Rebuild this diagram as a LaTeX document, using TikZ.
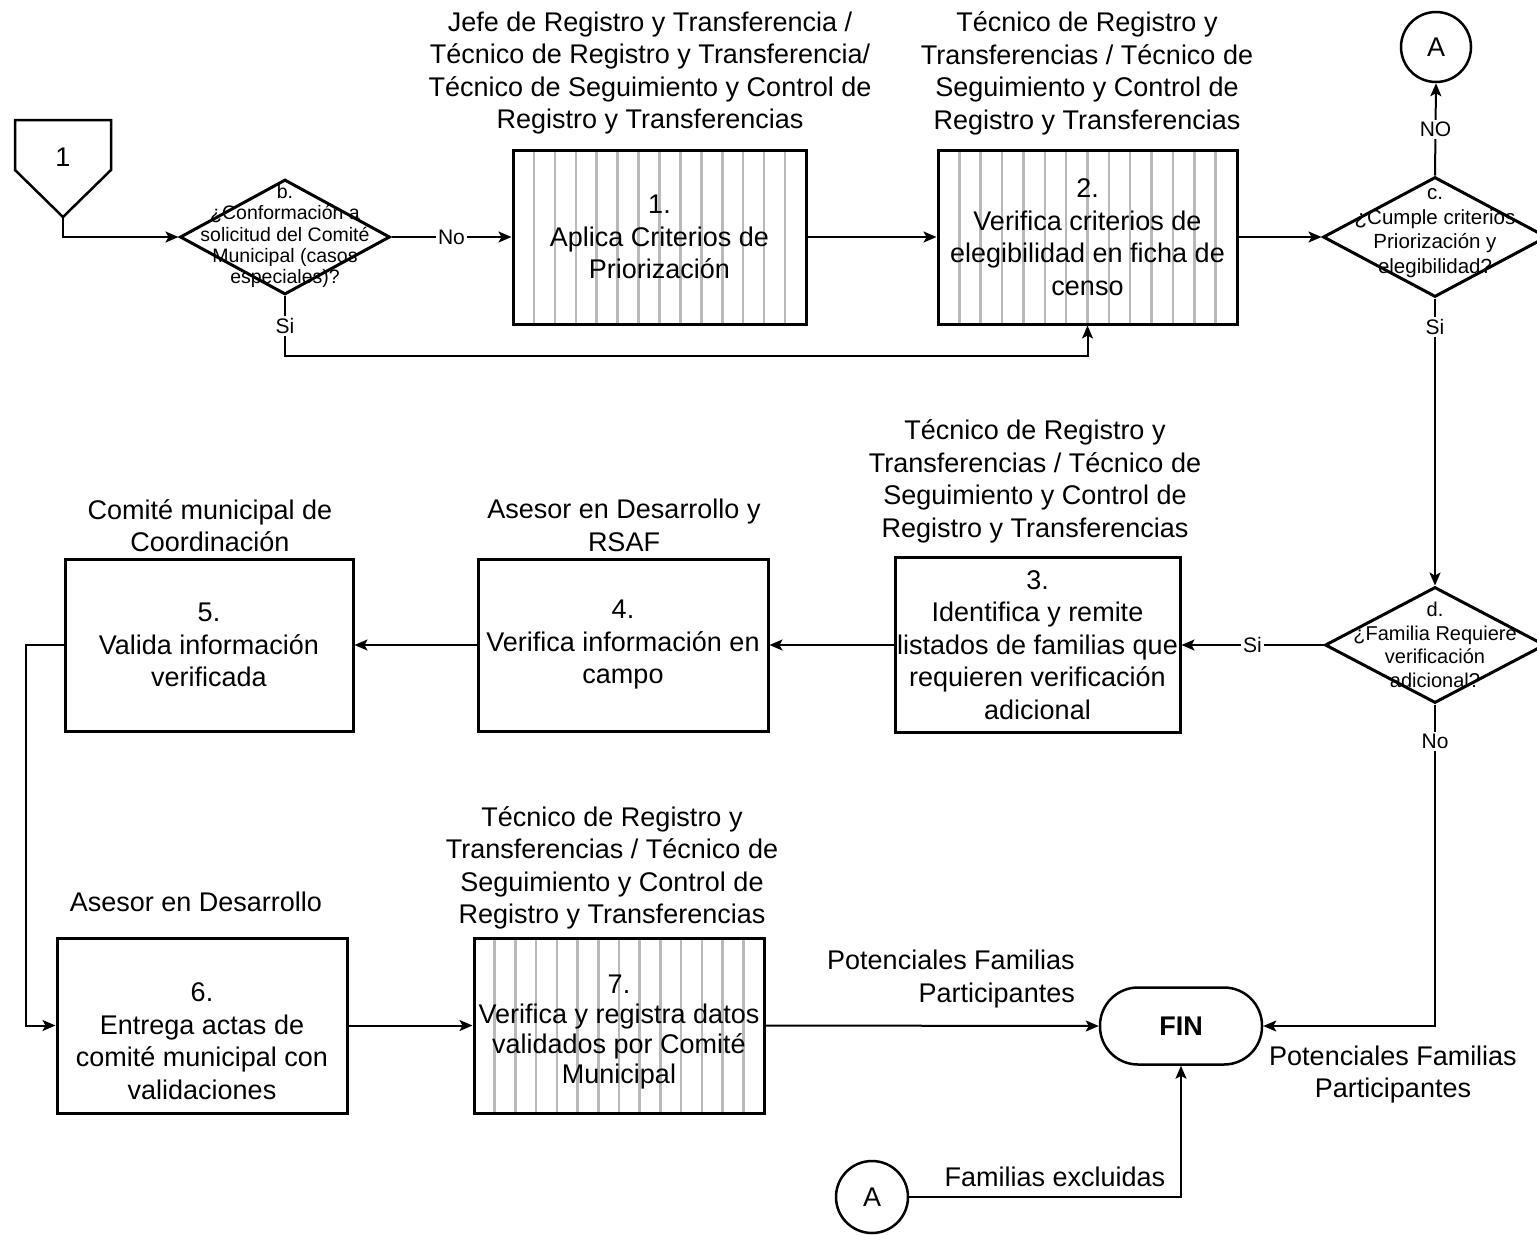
\documentclass[tikz,border=0pt]{standalone}
\usepackage{fontspec}
\setmainfont{Liberation Sans}
\usetikzlibrary{shapes.geometric,arrows.meta,calc}
\begin{document}
\begin{tikzpicture}[x=1pt,y=-1pt,
  main/.style={font=\fontsize{27}{32.5}\selectfont, align=center, inner sep=0pt},
  proc/.style={draw, line width=3pt, rectangle, main},
  stripe/.style={draw=gray!55, line width=2.5pt},
  striped/.style={path picture={
    \foreach \k in {1,...,13}{
      \draw[stripe] ($(path picture bounding box.north west)!{\k/14}!(path picture bounding box.north east)$) --
                    ($(path picture bounding box.south west)!{\k/14}!(path picture bounding box.south east)$);}}},
  dec/.style={draw, line width=3pt, diamond, inner sep=0pt},
  dtxt/.style={align=center, inner sep=0pt},
  conn/.style={line width=2pt, -{Stealth[length=13pt,width=11pt,inset=3pt]}},
  lbl/.style={fill=white, font=\fontsize{21}{25}\selectfont, inner sep=2pt},
  circ/.style={draw, circle, line width=2.5pt, main},
]
\useasboundingbox (0,0) rectangle (1537,1235);

% start off-page connector
\draw[line width=2.5pt] (15,120) -- (111,120) -- (111,170) -- (63,217) -- (15,170) -- cycle;
\node[main] (n1) at (63,157) {1};
\coordinate (s1) at (63,217);

% decision b
\node[dec, minimum width=210pt, minimum height=115pt] (db) at (285,237) {};
\node[dtxt, font=\fontsize{19.5}{21.3}\selectfont] (tdb) at (285,236) {b.\\¿Conformación a\\solicitud del Comité\\Municipal (casos\\especiales)?};

% process boxes
\node[proc, striped, minimum width=293pt, minimum height=174pt] (b1) at (659.5,237) {1.\\Aplica Criterios de\\Priorización};
\node[proc, striped, minimum width=299pt, minimum height=174pt] (b2) at (1087.5,237) {2.\\Verifica criterios de\\elegibilidad en ficha de\\censo};
\node[proc, minimum width=285pt, minimum height=175pt] (b3) at (1037.5,645) {3.\\Identifica y remite\\listados de familias que\\requieren verificación\\adicional};
\node[proc, minimum width=290pt, minimum height=172pt] (b4) at (623,645) {4.\\Verifica información en\\campo};
\node[proc, minimum width=288pt, minimum height=172pt] (b5) at (209,645) {5.\\Valida información\\verificada};
\node[proc, minimum width=290pt, minimum height=175pt] (b6) at (202,1025.5) {};
\node[main] (tb6) at (202,1041) {6.\\Entrega actas de\\comité municipal con\\validaciones};
\node[proc, striped, minimum width=290pt, minimum height=175pt] (b7) at (619,1025.5) {};
\node[main, font=\fontsize{27}{30}\selectfont] (tb7) at (619,1032) {7.\\Verifica y registra datos\\validados por Comité\\Municipal};

% role labels
\node[main] (L1) at (650,73) {Jefe de Registro y Transferencia /\\Técnico de Registro y Transferencia/\\Técnico de Seguimiento y Control de\\Registro y Transferencias};
\node[main] (L2) at (1087,73.5) {Técnico de Registro y\\Transferencias / Técnico de\\Seguimiento y Control de\\Registro y Transferencias};
\node[main] (L3) at (1035,481.5) {Técnico de Registro y\\Transferencias / Técnico de\\Seguimiento y Control de\\Registro y Transferencias};
\node[main] (L4) at (624,525.5) {Asesor en Desarrollo y\\RSAF};
\node[main] (L5) at (210,525.5) {Comité municipal de\\Coordinación};
\node[main] (L6) at (196,902) {Asesor en Desarrollo};
\node[main] (L7) at (612,868) {Técnico de Registro y\\Transferencias / Técnico de\\Seguimiento y Control de\\Registro y Transferencias};

% decisions c and d
\node[dec, minimum width=224pt, minimum height=120pt] (dc) at (1435,237) {};
\node[dtxt, font=\fontsize{20.5}{24.5}\selectfont] (tdc) at (1435,233) {c.\\¿Cumple criterios\\Priorización y\\elegibilidad?};
\node[dec, minimum width=220pt, minimum height=116pt] (dd) at (1435,645) {};
\node[dtxt, font=\fontsize{20}{23.5}\selectfont] (tdd) at (1435,645) {d.\\¿Familia Requiere\\verificación\\adicional?};

% connectors A
\node[circ, minimum size=70pt] (Atop) at (1436,47) {A};
\node[circ, minimum size=72pt] (Abot) at (872,1197) {A};

% end
\node[draw, line width=2.5pt, rounded corners=38pt, minimum width=162pt, minimum height=77pt,
      font=\bfseries\fontsize{27}{32.5}\selectfont] (fin) at (1181,1026) {FIN};

% free labels
\node[main, align=right, anchor=east] (P1) at (1075,979) {Potenciales Familias\\Participantes};
\node[main] (P2) at (1393,1074.5) {Potenciales Familias\\Participantes};
\node[main] (FE) at (1055,1177) {Familias excluidas};

% connectors
\draw[conn] (s1) |- (db.west);
\draw[conn] (db.east) -- node[lbl]{No} (b1.west);
\draw[conn] (b1.east) -- (b2.west);
\draw[conn] (db.south) -- node[lbl]{Si} ++(0,60) -| (b2.south);
\draw[conn] (b2.east) -- (dc.west);
\draw[conn] (dc.north) -- node[lbl]{NO} (Atop.south);
\draw[conn] (dc.south) -- node[lbl,pos=0.1]{Si} (dd.north);
\draw[conn] (dd.west) -- node[lbl]{Si} (b3.east);
\draw[conn] (b3.west) -- (b4.east);
\draw[conn] (b4.west) -- (b5.east);
\draw[conn] (b5.west) -- ++(-38,0) |- (b6.west);
\draw[conn] (b6.east) -- (b7.west);
\draw[conn] (b7.east) -- (fin.west);
\draw[conn] (dd.south) -- node[lbl,pos=0.115]{No} (dd.south |- fin.east) -- (fin.east);
\draw[conn] (Abot.east) -| (fin.south);
\end{tikzpicture}
\end{document}
